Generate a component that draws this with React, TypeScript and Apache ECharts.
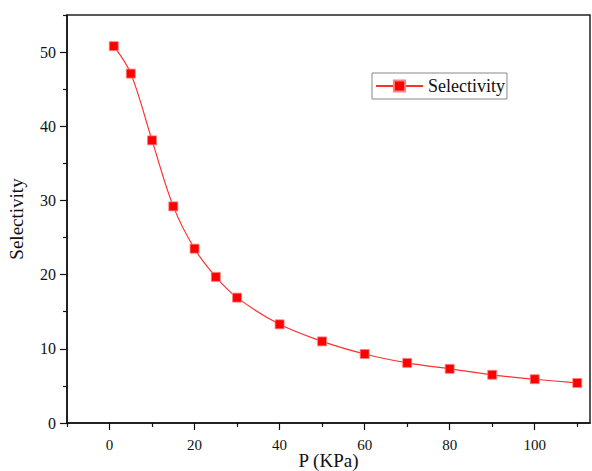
import React, { useEffect, useRef } from "react";
import * as echarts from "echarts";

const pressure = [1, 5, 10, 15, 20, 25, 30, 40, 50, 60, 70, 80, 90, 100, 110];
const selectivity = [50.8, 47.1, 38.1, 29.2, 23.5, 19.7, 16.9, 13.3, 11.0, 9.3, 8.1, 7.3, 6.5, 5.9, 5.4];
const seriesName = "Selectivity";
const xTitle = "P (KPa)";
const yTitle = "Selectivity";
const xMajor = [0, 20, 40, 60, 80, 100];
const xMinor = [-10, 10, 30, 50, 70, 90, 110];
const yMajor = [0, 10, 20, 30, 40, 50];
const yMinor = [5, 15, 25, 35, 45, 55];

export default function App() {
  const ref = useRef<HTMLDivElement>(null);
  useEffect(() => {
    if (!ref.current) return;
    const chart = echarts.init(ref.current, undefined, { renderer: "svg" });
    const font = "'Liberation Serif', 'Times New Roman', serif";
    const xBase = { type: "value", min: -10, max: 113 };
    const yBase = { type: "value", min: 0, max: 55 };
    chart.setOption({
      animation: false,
      backgroundColor: "#fff",
      grid: {
        left: 67,
        right: 2,
        top: 15,
        bottom: 48,
        show: true,
        borderColor: "#222",
        borderWidth: 1.5,
        containLabel: false,
        outerBoundsMode: "none",
      },
      legend: {
        show: true,
        left: 372,
        top: 73,
        orient: "vertical",
        data: [seriesName],
        borderColor: "#888",
        borderWidth: 1,
        borderRadius: 0,
        padding: [4, 2, 4, 3],
        itemWidth: 47,
        itemHeight: 14,
        textStyle: { fontFamily: font, fontSize: 18, color: "#111" },
      },
      xAxis: [
        {
          ...xBase,
          name: xTitle,
          nameLocation: "middle",
          nameGap: 28,
          nameMoveOverlap: false,
          nameTextStyle: { fontFamily: font, fontSize: 19, color: "#111" },
          axisLine: { show: true, onZero: false, lineStyle: { color: "#111", width: 1.5 } },
          axisTick: { show: true, inside: false, length: 7, customValues: xMajor, lineStyle: { color: "#111", width: 1.2 } },
          axisLabel: {
            fontFamily: font,
            fontSize: 15,
            color: "#111",
            margin: 14,
            customValues: xMajor,
          },
          splitLine: { show: false },
        },
        {
          ...xBase,
          position: "bottom",
          axisLine: { show: false, onZero: false },
          axisTick: { show: true, inside: false, length: 4, customValues: xMinor, lineStyle: { color: "#111", width: 1.2 } },
          axisLabel: { show: false },
          splitLine: { show: false },
        },
      ],
      yAxis: [
        {
          ...yBase,
          name: yTitle,
          nameLocation: "middle",
          nameGap: 41,
          nameMoveOverlap: false,
          nameTextStyle: { fontFamily: font, fontSize: 19, color: "#111" },
          axisLine: { show: true, onZero: false, lineStyle: { color: "#111", width: 1.5 } },
          axisTick: { show: true, inside: false, length: 7, customValues: yMajor, lineStyle: { color: "#111", width: 1.2 } },
          axisLabel: {
            fontFamily: font,
            fontSize: 16,
            color: "#111",
            margin: 11,
            customValues: yMajor,
          },
          splitLine: { show: false },
        },
        {
          ...yBase,
          position: "left",
          axisLine: { show: false, onZero: false },
          axisTick: { show: true, inside: false, length: 4, customValues: yMinor, lineStyle: { color: "#111", width: 1.2 } },
          axisLabel: { show: false },
          splitLine: { show: false },
        },
      ],
      series: [
        {
          name: seriesName,
          type: "line",
          xAxisIndex: 0,
          yAxisIndex: 0,
          data: pressure.map((p, i) => [p, selectivity[i]]),
          smooth: 0.35,
          symbol: "rect",
          symbolSize: 9,
          lineStyle: { color: "#ff3030", width: 1.2 },
          itemStyle: { color: "#ff0000", borderColor: "#ff8080", borderWidth: 0.8 },
          z: 3,
        },
      ],
    });
    return () => chart.dispose();
  }, []);
  return (
    <div
      ref={ref}
      style={{ position: "fixed", left: 0, top: 0, width: 592, height: 471 }}
    />
  );
}
